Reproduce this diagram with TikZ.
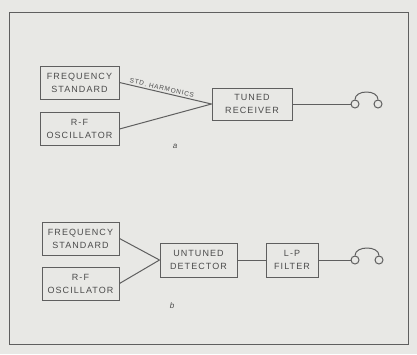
\documentclass[tikz,border=0pt]{standalone}
\usepackage{fontspec}
\setmainfont{Liberation Sans}
\newfontfamily\blockfont[LetterSpace=12]{Liberation Sans}
\newfontfamily\tagfont[LetterSpace=12]{Liberation Sans}
\usetikzlibrary{positioning}
\definecolor{pgpaper}{RGB}{232,232,229}
\definecolor{pgink}{RGB}{95,95,95}
\definecolor{pgtext}{RGB}{75,75,75}

\begin{document}
\begin{tikzpicture}[
  x=1pt,y=-1pt,
  font=\blockfont\fontsize{9}{13}\selectfont,
  text=pgtext,
  box/.style={draw=pgink,line width=1pt,align=center,inner sep=1pt,minimum height=33pt},
  wire/.style={draw=pgink,line width=1pt},
  ear/.style={circle,draw=pgink,line width=1pt,minimum size=8pt,inner sep=0pt},
  tag/.style={font=\itshape\fontsize{8}{9}\selectfont}
]
  \fill[pgpaper] (0,0) rectangle (417,354);
  \draw[pgink,line width=.8pt] (9,12) rectangle (408,344);

  % (a) tuned receiver
  \node[box,minimum width=79pt] (fsA) at (79.5,82.5) {FREQUENCY\\STANDARD};
  \node[box,minimum width=79pt] (rfA) at (79.5,129) {R-F\\OSCILLATOR};
  \node[box,minimum width=80pt,minimum height=32pt] (rxA) at (252,104) {TUNED\\RECEIVER};
  \node[ear] (earAl) at (355,104) {};
  \node[ear] (earAr) at (378,104) {};
  \node[tag] (capA) at (175,146) {a};

  \draw[wire] (fsA.east) -- node[sloped,above,pos=.45,inner sep=1.5pt,
    font=\tagfont\fontsize{6.5}{7}\selectfont]{STD. HARMONICS} (rxA.west);
  \draw[wire] (rfA.east) -- (rxA.west);
  \draw[wire] (rxA.east) -- (earAl.west);
  \draw[wire] (earAl.north) .. controls +(0,-10) and +(0,-10) .. (earAr.north);

  % (b) untuned detector
  \node[box,minimum width=77pt] (fsB) at (80.5,238.5) {FREQUENCY\\STANDARD};
  \node[box,minimum width=77pt] (rfB) at (80.5,283.5) {R-F\\OSCILLATOR};
  \node[box,minimum width=77pt,minimum height=34pt] (detB) at (198.5,260) {UNTUNED\\DETECTOR};
  \node[box,minimum width=52pt,minimum height=34pt] (lpB) at (292,260) {L-P\\FILTER};
  \node[ear] (earBl) at (355,260) {};
  \node[ear] (earBr) at (379,260) {};
  \node[tag] (capB) at (172,306) {b};

  \draw[wire] (fsB.east) -- (detB.west);
  \draw[wire] (rfB.east) -- (detB.west);
  \draw[wire] (detB.east) -- (lpB.west);
  \draw[wire] (lpB.east) -- (earBl.west);
  \draw[wire] (earBl.north) .. controls +(0,-10) and +(0,-10) .. (earBr.north);
\end{tikzpicture}
\end{document}
